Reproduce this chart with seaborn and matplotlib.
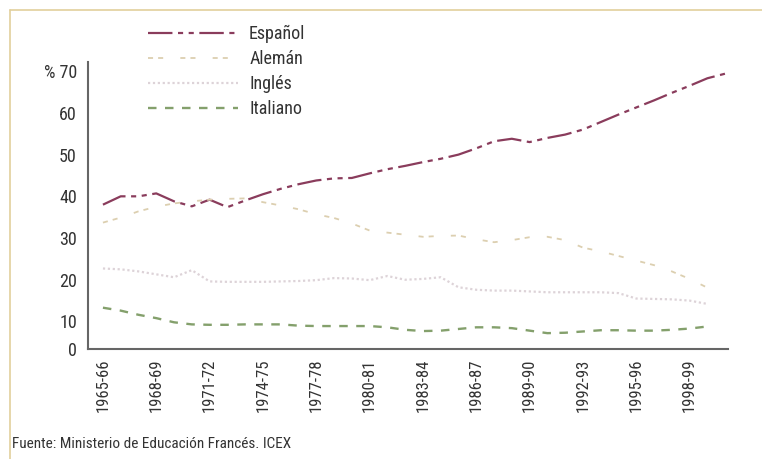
import matplotlib
matplotlib.use('Agg')
import matplotlib.pyplot as plt
from matplotlib.lines import Line2D
import seaborn as sns
import numpy as np
import pandas as pd

# school years 1965-66 .. 2000-01
years = [f'{y}-{str(y + 1)[-2:]}' for y in range(1965, 2001)]
tick_labels = years[0:36:3]

espanol = [38.0, 40.0, 40.0, 40.7, 38.8, 37.6, 39.2, 37.4, 39.0, 40.5,
           41.8, 42.9, 43.8, 44.3, 44.4, 45.5, 46.5, 47.3, 48.2, 49.0,
           50.0, 51.5, 53.2, 53.8, 53.0, 54.0, 54.8, 56.0, 57.8, 59.6,
           61.3, 63.0, 64.8, 66.5, 68.3, 69.4]
aleman = [33.7, 34.9, 36.4, 37.5, 38.3, 38.8, 39.2, 39.4, 39.5, 38.6,
          37.8, 36.9, 35.7, 34.8, 33.5, 31.8, 31.3, 30.8, 30.3, 30.5,
          30.6, 29.7, 29.0, 29.5, 30.2, 30.3, 29.5, 27.7, 26.8, 25.7,
          24.6, 23.5, 22.0, 20.2, 18.1, np.nan]
ingles = [22.7, 22.5, 22.0, 21.3, 20.6, 22.3, 19.6, 19.5, 19.5, 19.5,
          19.6, 19.7, 19.9, 20.4, 20.3, 19.9, 20.9, 20.0, 20.2, 20.6,
          18.2, 17.6, 17.4, 17.4, 17.2, 17.0, 17.0, 17.0, 17.0, 16.8,
          15.5, 15.4, 15.3, 15.0, 14.2, np.nan]
italiano = [13.3, 12.6, 11.6, 10.8, 9.8, 9.3, 9.2, 9.2, 9.3, 9.3,
            9.3, 9.0, 8.9, 8.9, 8.9, 8.9, 8.6, 8.0, 7.7, 7.8,
            8.2, 8.6, 8.6, 8.4, 7.8, 7.2, 7.3, 7.6, 7.9, 7.9,
            7.8, 7.8, 8.0, 8.3, 8.8, np.nan]

y_ticks = [10, 20, 30, 40, 50, 60, 70]
y_labels = ['0', '10', '20', '30', '40', '50', '60', '% 70']

sns.set_style('white')
plt.rcParams['font.family'] = ['Roboto Condensed', 'DejaVu Sans']

df = pd.DataFrame({'pos': np.arange(len(years)), 'Español': espanol,
                   'Alemán': aleman, 'Inglés': ingles, 'Italiano': italiano})

series = {
    'Español': dict(color='#8a3c5c', lw=1.6, ls=(0, (11, 2.5, 2.3, 2.5, 2.3, 2.5))),
    'Alemán': dict(color='#dccfb0', lw=1.3, ls=(0, (2.8, 2.8, 2.8, 9.5))),
    'Inglés': dict(color='#ddd3d8', lw=1.6, ls=(0, (1, 1.2))),
    'Italiano': dict(color='#84a06c', lw=1.7, ls=(0, (3.6, 3.6))),
}

fig = plt.figure(figsize=(7.62, 4.59), dpi=100)
ax = fig.add_axes([88 / 762, 1 - 349 / 459, 640 / 762, 287 / 459])

handles = []
for name, st in series.items():
    sns.lineplot(data=df, x='pos', y=name, color=st['color'], lw=st['lw'],
                 linestyle=st['ls'], ax=ax)
    handles.append(Line2D([], [], color=st['color'], lw=st['lw'], linestyle=st['ls'], label=name))

y_bottom = 3.4
ax.set_ylim(y_bottom, 72.2)
ax.set_xlim(-0.84, 35.1)
ax.set_yticks([y_bottom] + y_ticks)
ax.set_yticklabels(y_labels)
ax.set_xticks(np.arange(0, 36, 3))
ax.set_xticklabels(tick_labels, rotation=90)
ax.set_xticks(np.arange(-0.84, 36, 3), minor=True)
ax.tick_params(axis='x', which='major', length=0, pad=7, labelsize=12, colors='#333333')
ax.tick_params(axis='x', which='minor', length=4, width=1, color='#666666', direction='out')
ax.tick_params(axis='y', length=4, width=1, color='#666666', direction='out',
               labelsize=13, labelcolor='#333333', pad=4)
ax.set_xlabel('')
ax.set_ylabel('')
for s in ['top', 'right']:
    ax.spines[s].set_visible(False)
for s in ['left', 'bottom']:
    ax.spines[s].set_color('#666666')
    ax.spines[s].set_linewidth(1.5)

fig.legend(handles=handles, loc='upper left', bbox_to_anchor=(148 / 762, 1 - 25 / 459),
           frameon=False, handlelength=5.0, handletextpad=0.6, labelspacing=0.39,
           borderpad=0, borderaxespad=0, fontsize=13, labelcolor='#333333')

fig.text(12 / 762, 1 - 444 / 459, 'Fuente: Ministerio de Educación Francés. ICEX',
         fontsize=11, color='#333333', va='center', ha='left')

# thin tan frame along top and left
fig.add_artist(Line2D([10 / 762, 1], [1 - 10 / 459] * 2, color='#e2cf9c', lw=1.2))
fig.add_artist(Line2D([10 / 762] * 2, [0, 1 - 10 / 459], color='#e2cf9c', lw=1.2))

fig.savefig('out.png', dpi=100)
